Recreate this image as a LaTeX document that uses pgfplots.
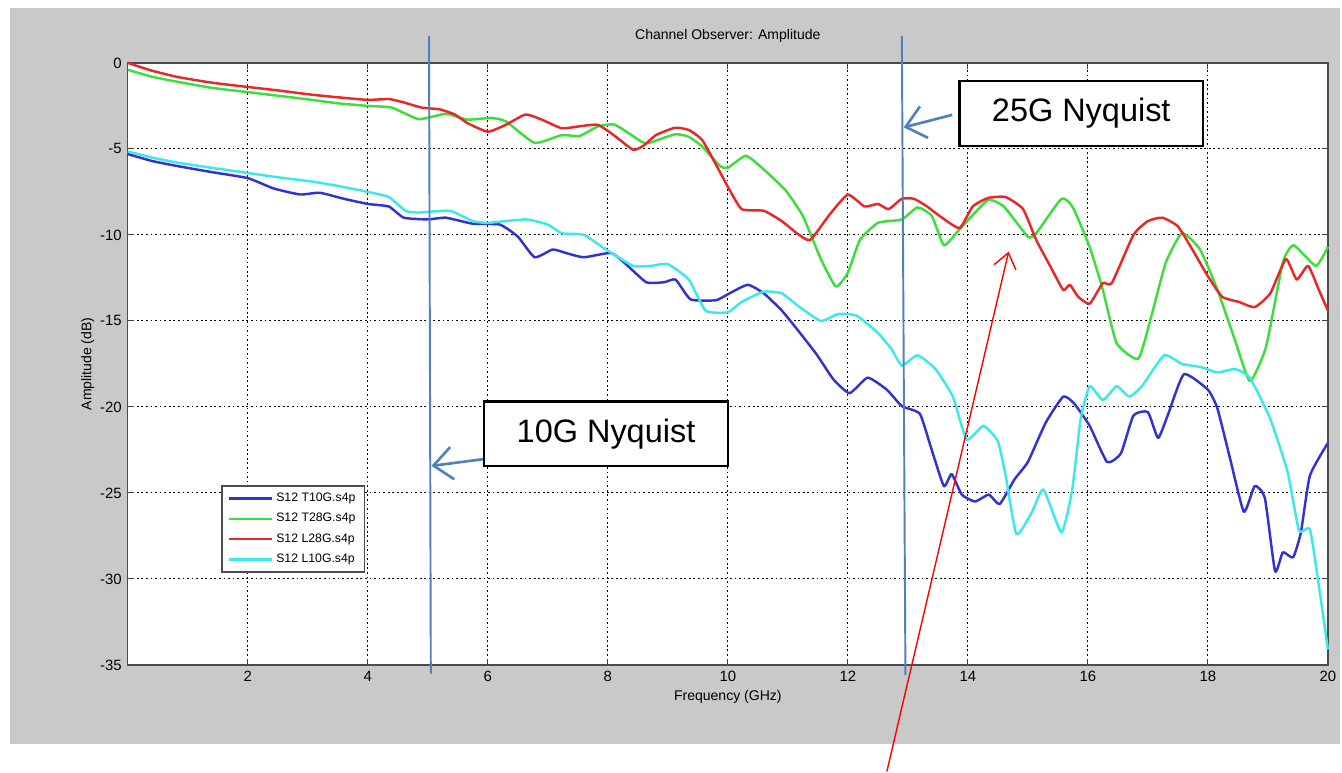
\documentclass[border=0pt]{standalone}
\usepackage{fontspec}
\setmainfont{Liberation Sans}
\usepackage{pgfplots}
\pgfplotsset{compat=1.18}
\usetikzlibrary{arrows.meta}

\definecolor{bggray}{RGB}{201,201,201}
\definecolor{cT10}{RGB}{50,50,210}
\definecolor{cT28}{RGB}{60,222,60}
\definecolor{cL28}{RGB}{232,40,40}
\definecolor{cL10}{RGB}{60,232,232}
\definecolor{annblue}{RGB}{79,129,189}

\begin{document}
\begin{tikzpicture}
% picture frame: 1342 x 773 px at 0.02 cm per px
\path (0,0) rectangle (26.84,15.46);
\fill[bggray] (0.2,0.56) rectangle (26.84,15.3);

\begin{axis}[
  at={(2.56cm,2.14cm)}, anchor=south west,
  width=24.04cm, height=12.06cm, scale only axis,
  xmin=0, xmax=20, ymin=-35, ymax=0,
  xtick={2,4,...,20},
  xticklabels={2,4,6,8,10,12,14,16,18,20},
  ytick={-35,-30,...,0},
  yticklabels={-35,-30,-25,-20,-15,-10,-5,0},
  tick align=inside, major tick length=0.12cm,
  tick style={black!75, line width=0.6pt},
  axis line style={black!70, line width=0.8pt},
  axis background/.style={fill=white},
  grid=major,
  grid style={black, line width=0.5pt, dash pattern=on 1pt off 1.6pt},
  ticklabel style={font=\fontsize{8.5}{10}\selectfont},
  label style={font=\fontsize{8}{10}\selectfont},
  title style={font=\fontsize{8}{10}\selectfont, at={(axis description cs:0.5,1.028)}, anchor=center},
  title={Channel Observer: Amplitude},
  xlabel={Frequency (GHz)},
  ylabel={Amplitude (dB)},
  xlabel style={at={(axis description cs:0.5,-0.053)}, anchor=center},
  ylabel style={at={(axis description cs:-0.0333,0.5)}, anchor=center},
  clip=false,
  every axis plot/.append style={line width=1.4pt, line join=round, smooth, tension=0.3},
  legend cell align=left,
  legend style={at={(axis description cs:0.078,0.2985)}, anchor=north west,
    font=\fontsize{7}{8}\selectfont, draw=black!70, line width=0.8pt,
    fill=white, row sep=1.2pt, inner xsep=3pt, inner ysep=2pt},
  legend image code/.code={\draw[#1, sharp plot] (0cm,0cm) -- (0.86cm,0cm);},
]
\addplot[cT10] coordinates {
(0,-5.3) (0.4,-5.7) (0.83,-6.0) (1.4,-6.35) (2,-6.7) (2.43,-7.3) (2.87,-7.65)
(3.2,-7.55) (3.6,-7.9) (4.0,-8.2) (4.35,-8.35) (4.6,-9.0) (5.0,-9.1) (5.3,-9.0)
(5.75,-9.35) (6.2,-9.4) (6.5,-10.1) (6.78,-11.3) (7.08,-10.85) (7.3,-11.05)
(7.6,-11.3) (8.05,-11.05) (8.27,-11.6) (8.64,-12.75) (8.94,-12.75) (9.13,-12.6)
(9.38,-13.75) (9.8,-13.8) (10.0,-13.45) (10.33,-12.9) (10.6,-13.4) (10.9,-14.4)
(11.18,-15.6) (11.48,-16.95) (11.76,-18.4) (12.03,-19.2) (12.33,-18.3) (12.65,-19.0)
(12.9,-19.95) (13.2,-20.4) (13.38,-22.3) (13.6,-24.6) (13.73,-23.9) (13.9,-25.1)
(14.12,-25.5) (14.35,-25.1) (14.53,-25.65) (14.78,-24.2) (15.0,-23.2) (15.3,-20.9)
(15.59,-19.4) (15.77,-19.8) (16.03,-21.1) (16.32,-23.2) (16.55,-22.7) (16.76,-20.5)
(17.0,-20.3) (17.17,-21.8) (17.33,-20.5) (17.6,-18.1) (18.0,-19.0) (18.16,-20.1)
(18.37,-23.0) (18.6,-26.1) (18.78,-24.6) (18.95,-25.3) (19.12,-29.55) (19.25,-28.45)
(19.42,-28.75) (19.55,-27.3) (19.7,-24.0) (20,-22.1)
};
\addlegendentry{S12 T10G.s4p}
\addplot[cT28] coordinates {
(0,-0.4) (0.4,-0.8) (0.83,-1.1) (1.4,-1.45) (2,-1.7) (2.6,-1.95) (3.07,-2.15)
(3.5,-2.35) (4,-2.5) (4.4,-2.6) (4.85,-3.27) (5.3,-2.96) (5.66,-3.3) (6.05,-3.2)
(6.3,-3.4) (6.78,-4.65) (7.23,-4.2) (7.53,-4.25) (7.83,-3.7) (8.12,-3.6) (8.57,-4.6)
(8.69,-4.65) (9.12,-4.15) (9.35,-4.3) (9.57,-4.85) (9.87,-6.0) (10.0,-6.1) (10.3,-5.4)
(10.6,-6.2) (10.96,-7.4) (11.25,-8.9) (11.55,-11.4) (11.8,-13.0) (12.0,-12.2)
(12.2,-10.3) (12.5,-9.3) (12.9,-9.1) (13.16,-8.4) (13.4,-8.9) (13.6,-10.6) (13.83,-9.8)
(14.12,-8.7) (14.35,-7.95) (14.6,-8.35) (15.0,-10.1) (15.14,-9.9) (15.56,-7.9)
(15.75,-8.4) (16.03,-10.7) (16.25,-13.2) (16.48,-16.3) (16.84,-17.2) (17.06,-14.7)
(17.3,-11.6) (17.57,-9.9) (17.87,-10.85) (18.16,-13.2) (18.45,-16.1) (18.7,-18.5)
(18.97,-16.5) (19.25,-11.6) (19.43,-10.6) (19.8,-11.8) (20,-10.7)
};
\addlegendentry{S12 T28G.s4p}
\addplot[cL28] coordinates {
(0,0) (0.4,-0.45) (0.83,-0.82) (1.4,-1.15) (2,-1.4) (2.5,-1.6) (3.07,-1.85) (3.5,-2.0)
(4.0,-2.15) (4.35,-2.1) (4.6,-2.3) (4.9,-2.6) (5.2,-2.7) (5.45,-3.0) (5.66,-3.5)
(6.0,-4.0) (6.3,-3.6) (6.63,-3.0) (6.9,-3.3) (7.23,-3.8) (7.5,-3.7) (7.83,-3.6)
(8.1,-4.2) (8.42,-5.05) (8.6,-4.8) (8.8,-4.2) (9.12,-3.77) (9.35,-3.9) (9.57,-4.47)
(9.8,-5.9) (10.0,-7.2) (10.23,-8.5) (10.6,-8.6) (10.9,-9.2) (11.15,-9.9) (11.37,-10.3)
(11.7,-8.8) (12.0,-7.66) (12.28,-8.35) (12.5,-8.2) (12.68,-8.5) (12.9,-7.9) (13.1,-7.9)
(13.3,-8.3) (13.53,-8.9) (13.86,-9.6) (14.08,-8.35) (14.34,-7.85) (14.63,-7.8)
(14.92,-8.5) (15.14,-10.3) (15.37,-11.8) (15.59,-13.2) (15.7,-12.9) (15.84,-13.6)
(16.03,-14.0) (16.25,-12.8) (16.4,-12.8) (16.76,-10.0) (17.0,-9.2) (17.24,-9.0)
(17.5,-9.5) (17.75,-10.9) (18.0,-12.4) (18.24,-13.6) (18.52,-13.9) (18.78,-14.2)
(19.04,-13.4) (19.3,-11.4) (19.48,-12.6) (19.67,-11.8) (19.85,-13.2) (20,-14.4)
};
\addlegendentry{S12 L28G.s4p}
\addplot[cL10] coordinates {
(0,-5.15) (0.4,-5.5) (0.83,-5.8) (1.4,-6.1) (2,-6.4) (2.5,-6.65) (3.07,-6.9) (3.5,-7.15)
(4,-7.5) (4.35,-7.8) (4.63,-8.6) (4.85,-8.7) (5.37,-8.6) (5.75,-9.2) (6,-9.3)
(6.63,-9.1) (7.0,-9.4) (7.23,-9.9) (7.6,-10.0) (7.97,-10.85) (8.42,-11.8) (8.72,-11.8)
(9.0,-11.7) (9.35,-12.6) (9.63,-14.4) (10.0,-14.5) (10.23,-13.9) (10.6,-13.3)
(10.9,-13.4) (11.18,-14.15) (11.55,-15.0) (11.84,-14.6) (12.15,-14.7) (12.5,-15.7)
(12.73,-16.65) (12.9,-17.6) (13.16,-17.0) (13.46,-17.8) (13.75,-19.4) (13.98,-21.9)
(14.26,-21.1) (14.5,-22.0) (14.63,-24.0) (14.81,-27.4) (15.07,-26.1) (15.26,-24.8)
(15.56,-27.3) (15.74,-24.8) (15.88,-20.7) (16.03,-18.8) (16.25,-19.6) (16.48,-18.8)
(16.69,-19.4) (16.9,-18.8) (17.27,-17.0) (17.57,-17.5) (17.9,-17.7) (18.16,-18.0)
(18.45,-17.8) (18.7,-18.3) (19.04,-20.7) (19.33,-23.8) (19.52,-27.2) (19.7,-27.1)
(19.85,-30.4) (20,-34.1)
};
\addlegendentry{S12 L10G.s4p}

% Nyquist markers
\draw[annblue, line width=1.1pt] (axis cs:5.02,1.57) -- (axis cs:5.05,-35.5);
\draw[annblue, line width=1.1pt] (axis cs:12.9,1.57) -- (axis cs:12.96,-35.6);
\draw[annblue, line width=1.5pt, -{Straight Barb[length=3.8mm,width=6.5mm]}]
  (axis cs:13.74,-3.02) -- (axis cs:12.93,-3.75);
\draw[annblue, line width=1.5pt, -{Straight Barb[length=3.8mm,width=6.5mm]}]
  (axis cs:5.92,-23.04) -- (axis cs:5.06,-23.43);
\node[draw=black, line width=1.4pt, fill=white, minimum width=4.88cm, minimum height=1.3cm,
  font=\fontsize{18.5}{22}\selectfont] at (axis cs:15.89,-2.93) {25G Nyquist};
\node[draw=black, line width=1.4pt, fill=white, minimum width=4.88cm, minimum height=1.3cm,
  font=\fontsize{18.5}{22}\selectfont] at (axis cs:7.97,-21.56) {10G Nyquist};
\draw[red, line width=0.8pt, -{Straight Barb[length=3mm,width=4.5mm]}]
  (axis cs:12.65,-41.2) -- (axis cs:14.68,-10.97);
\end{axis}
\end{tikzpicture}
\end{document}
